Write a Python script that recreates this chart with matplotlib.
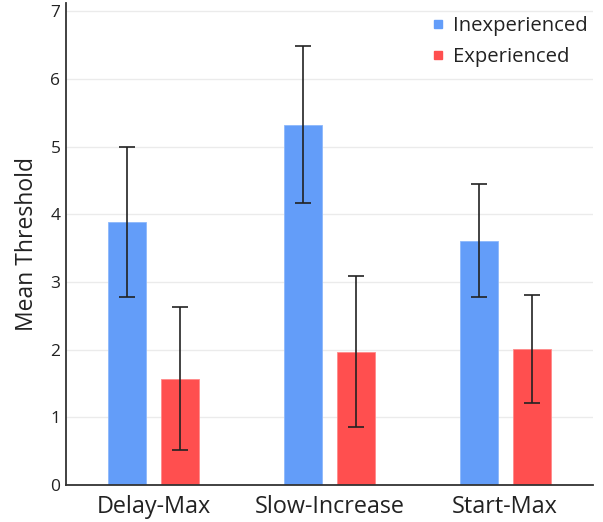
import matplotlib
matplotlib.use("Agg")
import matplotlib.pyplot as plt
import numpy as np
from matplotlib.lines import Line2D

categories = ["Delay-Max", "Slow-Increase", "Start-Max"]
series_names = ["Inexperienced", "Experienced"]
inexperienced = [3.89, 5.32, 3.61]
inexperienced_err = [1.11, 1.16, 0.84]
experienced = [1.57, 1.97, 2.01]
experienced_err = [1.06, 1.11, 0.80]
yticks = [0, 1, 2, 3, 4, 5, 6, 7]

plt.rcParams['font.family'] = ['Open Sans', 'DejaVu Sans']

colors = ["#639DF9", "#FF4F4F"]
edge_colors = ["#8DB8FB", "#FF8A8A"]

fig = plt.figure(figsize=(6.03, 5.22), dpi=100)
ax = fig.add_axes([66/603, 37/522, (593-66)/603, (485-3)/522])

x = np.arange(len(categories))
w = 0.217
off = 0.151
for i, (vals, errs) in enumerate([(inexperienced, inexperienced_err), (experienced, experienced_err)]):
    pos = x + (-off if i == 0 else off)
    ax.bar(pos, vals, width=w, color=colors[i], edgecolor=edge_colors[i], linewidth=0.6,
           label=series_names[i], zorder=2)
    ax.errorbar(pos, vals, yerr=errs, fmt='none', ecolor='#222222', elinewidth=1.2,
                capsize=5.5, capthick=1.2, zorder=3)

ax.set_xlim(-0.5, 2.5)
ax.set_ylim(0, 7.12)
ax.set_yticks(yticks)
ax.set_xticks(x)
ax.set_xticklabels(categories, fontsize=16.8, color="#222222")
ax.tick_params(axis='y', labelsize=12.5, colors="#222222", length=0, pad=4)
ax.tick_params(axis='x', length=0, pad=7)
ax.grid(axis='y', color="#EBEBEB", linewidth=1, zorder=0)
ax.set_axisbelow(True)
for s in ['top', 'right']:
    ax.spines[s].set_visible(False)
for s in ['left', 'bottom']:
    ax.spines[s].set_color("#333333")
    ax.spines[s].set_linewidth(1.3)
ax.set_ylabel("Mean Threshold", fontsize=16.5, color="#222222", labelpad=8)

handles = [Line2D([0], [0], marker='s', linestyle='none', markersize=6,
                  markerfacecolor=c, markeredgecolor=c) for c in colors]
leg = ax.legend(handles, series_names, loc='upper right', bbox_to_anchor=(1.024, 1.011),
                frameon=False, fontsize=14.6, handletextpad=0.25, handlelength=0.9,
                labelspacing=0.55, labelcolor="#222222")

fig.savefig("out.png", dpi=100)
